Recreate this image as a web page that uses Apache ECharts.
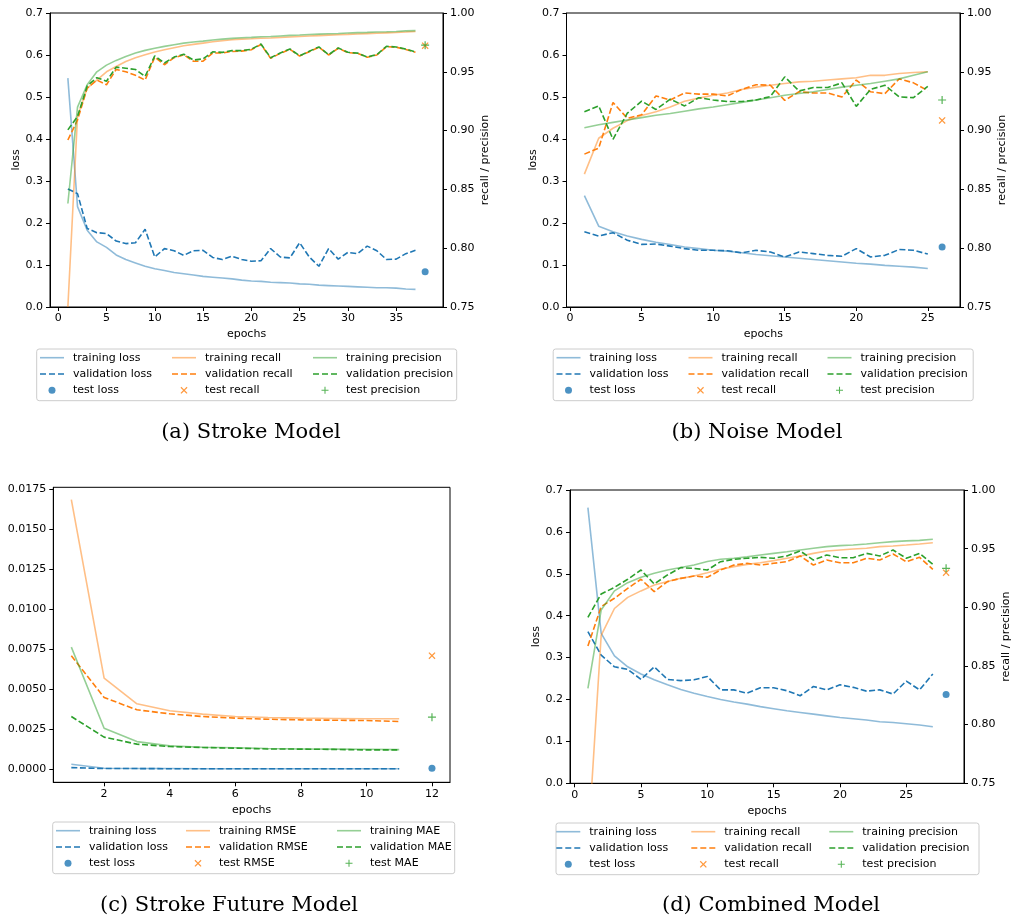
<!DOCTYPE html>
<html>
<head>
<meta charset="utf-8">
<script src="https://cdn.jsdelivr.net/npm/echarts@6/dist/echarts.min.js"></script>
<style>
  html, body { margin: 0; padding: 0; background: #fff; }
  #wrap { position: relative; width: 1012px; height: 923px; }
  .panel { position: absolute; width: 506px; height: 461px; }
</style>
</head>
<body>
<div id="wrap">
  <div id="pa" class="panel" style="left:0;top:0"></div>
  <div id="pb" class="panel" style="left:506px;top:0"></div>
  <div id="pc" class="panel" style="left:0;top:462px"></div>
  <div id="pd" class="panel" style="left:506px;top:462px"></div>
</div>
<script>
// ---------- (a) Stroke Model, 37 epochs ----------
const strokeTrainLoss = [0.545, 0.239, 0.183, 0.155, 0.142, 0.124, 0.113, 0.105, 0.097, 0.091,
  0.087, 0.082, 0.079, 0.076, 0.073, 0.071, 0.069, 0.067, 0.064, 0.062,
  0.061, 0.059, 0.058, 0.057, 0.055, 0.054, 0.052, 0.051, 0.050, 0.049,
  0.048, 0.047, 0.046, 0.046, 0.045, 0.043, 0.042];
const strokeValLoss = [0.281, 0.270, 0.187, 0.177, 0.175, 0.157, 0.151, 0.153, 0.185, 0.119,
  0.139, 0.134, 0.123, 0.134, 0.135, 0.118, 0.113, 0.121, 0.113, 0.109,
  0.110, 0.139, 0.119, 0.117, 0.153, 0.119, 0.097, 0.139, 0.114, 0.130,
  0.127, 0.145, 0.134, 0.113, 0.114, 0.127, 0.135];
const strokeTrainRecall = [0.750, 0.912, 0.936, 0.943, 0.950, 0.9545, 0.9588, 0.962, 0.9645, 0.9668,
  0.9688, 0.9705, 0.9722, 0.9733, 0.9744, 0.9755, 0.9764, 0.9772, 0.9778, 0.9781,
  0.9785, 0.9788, 0.9792, 0.9796, 0.9800, 0.9804, 0.9808, 0.9812, 0.9815, 0.9818,
  0.9822, 0.9825, 0.9828, 0.9831, 0.9834, 0.9838, 0.9843];
const strokeTrainPrecision = [0.838, 0.920, 0.939, 0.950, 0.9557, 0.9597, 0.9631, 0.966, 0.9682, 0.970,
  0.9716, 0.973, 0.9744, 0.9753, 0.9761, 0.977, 0.9778, 0.9784, 0.979, 0.9793,
  0.9798, 0.980, 0.9805, 0.981, 0.9813, 0.9817, 0.982, 0.9823, 0.9826, 0.983,
  0.9833, 0.9835, 0.9838, 0.984, 0.9843, 0.9848, 0.985];
const strokeValRecall = [0.892, 0.909, 0.936, 0.943, 0.939, 0.952, 0.950, 0.947, 0.943, 0.9625,
  0.956, 0.962, 0.9645, 0.959, 0.959, 0.966, 0.966, 0.9673, 0.9676, 0.9688,
  0.9732, 0.9615, 0.9657, 0.9691, 0.9634, 0.9671, 0.9709, 0.9643, 0.970, 0.9663,
  0.9657, 0.9623, 0.9643, 0.9714, 0.9709, 0.969, 0.9666];
const strokeValPrecision = [0.9006, 0.912, 0.938, 0.945, 0.942, 0.954, 0.953, 0.952, 0.946, 0.9636,
  0.9575, 0.9625, 0.965, 0.960, 0.961, 0.967, 0.9665, 0.968, 0.968, 0.9692,
  0.9736, 0.962, 0.966, 0.9694, 0.9636, 0.9674, 0.9712, 0.9645, 0.9703, 0.9666,
  0.9659, 0.9626, 0.9646, 0.9717, 0.9711, 0.9693, 0.9668];
const strokeTest = { epoch: 38, loss: 0.084, recall: 0.9722, precision: 0.9726 };

// ---------- (b) Noise Model, 25 epochs ----------
const noiseTrainLoss = [0.265, 0.1925, 0.179, 0.169, 0.161, 0.154, 0.149, 0.143, 0.139, 0.135,
  0.133, 0.129, 0.125, 0.122, 0.119, 0.116, 0.113, 0.110, 0.107, 0.104,
  0.102, 0.099, 0.097, 0.095, 0.0915];
const noiseValLoss = [0.179, 0.169, 0.177, 0.159, 0.149, 0.150, 0.145, 0.139, 0.135, 0.135,
  0.134, 0.129, 0.135, 0.131, 0.119, 0.131, 0.127, 0.123, 0.121, 0.139,
  0.119, 0.123, 0.137, 0.135, 0.126];
const noiseTrainRecall = [0.863, 0.8935, 0.902, 0.9085, 0.9128, 0.916, 0.920, 0.925, 0.9276, 0.930,
  0.932, 0.935, 0.937, 0.9386, 0.940, 0.9414, 0.942, 0.943, 0.944, 0.945,
  0.947, 0.947, 0.9486, 0.9494, 0.950];
const noiseTrainPrecision = [0.9025, 0.905, 0.907, 0.909, 0.911, 0.913, 0.9145, 0.9165, 0.9185, 0.920,
  0.922, 0.924, 0.926, 0.928, 0.930, 0.9315, 0.933, 0.935, 0.937, 0.9385,
  0.940, 0.942, 0.944, 0.947, 0.950];
const noiseValRecall = [0.880, 0.885, 0.9239, 0.9105, 0.9134, 0.9295, 0.926, 0.932, 0.931, 0.931,
  0.9295, 0.935, 0.939, 0.9386, 0.9257, 0.933, 0.932, 0.932, 0.9286, 0.943,
  0.933, 0.9314, 0.944, 0.9406, 0.934];
const noiseValPrecision = [0.916, 0.921, 0.8926, 0.9148, 0.925, 0.918, 0.9267, 0.921, 0.928, 0.926,
  0.9247, 0.9247, 0.926, 0.929, 0.9457, 0.9337, 0.9366, 0.9366, 0.9406, 0.9206,
  0.935, 0.9386, 0.9286, 0.928, 0.9377];
const noiseTest = { epoch: 26, loss: 0.143, recall: 0.9086, precision: 0.926 };

// ---------- (c) Stroke Future Model, 11 epochs ----------
const futureTrainLoss = [0.00029, 0.00004, 0.00002, 0.00002, 0.00001, 0.00001, 0.00001, 0.00001, 0.00001, 0.00001, 0.00001];
const futureValLoss = [0.00008, 0.00002, 0.00002, 0.00001, 0.00001, 0.00001, 0.00001, 0.00001, 0.00001, 0.00001, 0.00001];
const futureTrainRMSE = [0.01687, 0.00569, 0.00408, 0.00364, 0.00343, 0.00328, 0.00322, 0.00318, 0.00316, 0.00314, 0.00314];
const futureValRMSE = [0.00709, 0.00447, 0.00370, 0.00345, 0.00328, 0.00318, 0.00311, 0.00307, 0.00305, 0.00303, 0.00297];
const futureTrainMAE = [0.00763, 0.00255, 0.00171, 0.00144, 0.00136, 0.00132, 0.00128, 0.00125, 0.00124, 0.00123, 0.00121];
const futureValMAE = [0.00328, 0.00199, 0.00155, 0.00140, 0.00134, 0.00130, 0.00125, 0.00124, 0.00122, 0.00119, 0.00119];
const futureTest = { epoch: 12, loss: 0.00004, rmse: 0.00709, mae: 0.00324 };

// ---------- (d) Combined Model, 27 epochs ----------
const combTrainLoss = [0.658, 0.358, 0.304, 0.278, 0.261, 0.247, 0.235, 0.224, 0.215, 0.207,
  0.200, 0.194, 0.189, 0.183, 0.178, 0.173, 0.169, 0.165, 0.161, 0.157,
  0.154, 0.151, 0.147, 0.145, 0.142, 0.139, 0.135];
const combValLoss = [0.362, 0.306, 0.278, 0.272, 0.248, 0.278, 0.248, 0.245, 0.247, 0.255,
  0.223, 0.223, 0.215, 0.228, 0.228, 0.221, 0.209, 0.231, 0.223, 0.235,
  0.229, 0.220, 0.223, 0.213, 0.244, 0.223, 0.261];
const combTrainRecall = [0.696, 0.876, 0.899, 0.9085, 0.914, 0.919, 0.922, 0.9247, 0.9267, 0.9295,
  0.9324, 0.9347, 0.9366, 0.938, 0.9398, 0.9418, 0.9438, 0.946, 0.948, 0.9489,
  0.9497, 0.9503, 0.9517, 0.9523, 0.9531, 0.954, 0.9551];
const combTrainPrecision = [0.831, 0.8977, 0.914, 0.921, 0.9256, 0.929, 0.9318, 0.934, 0.936, 0.939,
  0.941, 0.9418, 0.943, 0.9446, 0.946, 0.9474, 0.9489, 0.9503, 0.9517, 0.9526,
  0.9531, 0.954, 0.9551, 0.956, 0.9566, 0.9571, 0.958];
const combValRecall = [0.867, 0.9006, 0.9077, 0.9162, 0.9239, 0.9134, 0.9219, 0.9247, 0.9267, 0.9256,
  0.9318, 0.936, 0.9375, 0.936, 0.9375, 0.9389, 0.9438, 0.936, 0.9403, 0.938,
  0.938, 0.9418, 0.9403, 0.9455, 0.9389, 0.9426, 0.9324];
const combValPrecision = [0.8915, 0.9114, 0.917, 0.9239, 0.9318, 0.9199, 0.9276, 0.9338, 0.9332, 0.9318,
  0.9389, 0.9409, 0.9418, 0.9426, 0.9418, 0.9438, 0.948, 0.9403, 0.9446, 0.9423,
  0.9423, 0.946, 0.9438, 0.9489, 0.9418, 0.946, 0.9366];
const combTest = { epoch: 28, loss: 0.212, recall: 0.9295, precision: 0.9332 };

// ---------- tick labels ----------
const ticksStrokeX = [0, 5, 10, 15, 20, 25, 30, 35];
const ticksNoiseX = [0, 5, 10, 15, 20, 25];
const ticksFutureX = [2, 4, 6, 8, 10, 12];
const ticksCombX = [0, 5, 10, 15, 20, 25];
const ticksFutureY = [0, 0.0025, 0.005, 0.0075, 0.01, 0.0125, 0.015, 0.0175];

// ---------- styling ----------
const FONT = "'DejaVu Sans', sans-serif";
const C0 = '#1f77b4', C1 = '#ff7f0e', C2 = '#2ca02c';
const C0a = 'rgba(31,119,180,0.5)', C1a = 'rgba(255,127,14,0.5)', C2a = 'rgba(44,160,44,0.5)';
const DASH = [6, 2.6];
const ICON_SOLID = 'path://M0,0H24V1.6H0Z';
const ICON_DASH = 'path://M0,0H6V1.6H0Z M9,0H15V1.6H9Z M18,0H24V1.6H18Z';
const SYM_X = 'path://M1,0L4,3L7,0L8,1L5,4L8,7L7,8L4,5L1,8L0,7L3,4L0,1Z';
const SYM_PLUS = 'path://M3.4,0H4.6V3.4H8V4.6H4.6V8H3.4V4.6H0V3.4H3.4Z';
const MARKERS = {
  dot: { symbol: 'circle', size: 7 },
  x: { symbol: SYM_X, size: 7 },
  plus: { symbol: SYM_PLUS, size: 8 }
};
const ICON_OF = { solid: ICON_SOLID, dash: ICON_DASH, dot: 'circle', x: SYM_X, plus: SYM_PLUS };

function lineSeries(name, values, color, dashed, axis) {
  return {
    type: 'line', name: name, yAxisIndex: axis,
    data: values.map((v, i) => [i + 1, v]),
    symbol: 'none', showSymbol: false, clip: true, silent: true, animation: false,
    lineStyle: { color: color, width: 1.6, type: dashed ? DASH : 'solid' },
    itemStyle: { color: color },
    emphasis: { disabled: true }
  };
}
function testSeries(name, x, y, kind, color, axis) {
  return {
    type: 'scatter', name: name, yAxisIndex: axis,
    data: [[x, y]], symbol: MARKERS[kind].symbol, symbolSize: MARKERS[kind].size,
    itemStyle: { color: color }, silent: true, animation: false, clip: false,
    emphasis: { disabled: true }
  };
}

const axisText = { color: '#000', fontFamily: FONT, fontSize: 11 };
function xAxisCfg(min, max, ticks) {
  return {
    type: 'value', min: min, max: max,
    name: 'epochs', nameLocation: 'middle', nameGap: 22, nameMoveOverlap: false,
    nameTextStyle: axisText,
    axisLine: { show: true, onZero: false, lineStyle: { color: '#000', width: 1 } },
    axisTick: { show: true, length: 4, inside: false, customValues: ticks, lineStyle: { color: '#000', width: 1 } },
    axisLabel: Object.assign({ customValues: ticks, margin: 6, formatter: v => String(v) }, axisText),
    splitLine: { show: false }
  };
}
function yAxisCfg(opt) {
  const cfg = {
    type: 'value', min: opt.min, max: opt.max, position: opt.position,
    axisLine: { show: true, onZero: false, lineStyle: { color: '#000', width: 1 } },
    axisTick: { show: true, length: 4, inside: false, lineStyle: { color: '#000', width: 1 } },
    axisLabel: Object.assign({ margin: 7, formatter: v => v.toFixed(opt.digits) }, axisText),
    splitLine: { show: false }
  };
  if (opt.interval) cfg.interval = opt.interval;
  if (opt.ticks) { cfg.axisTick.customValues = opt.ticks; cfg.axisLabel.customValues = opt.ticks; }
  if (opt.name) {
    cfg.name = opt.name; cfg.nameLocation = 'middle'; cfg.nameGap = opt.nameGap;
    cfg.nameRotate = 90; cfg.nameTextStyle = axisText; cfg.nameMoveOverlap = false;
  }
  return cfg;
}

function buildPanel(id, p) {
  const chart = echarts.init(document.getElementById(id), null, { renderer: 'canvas' });
  // legend: three columns of three entries, inside a rounded frame
  const legends = p.legendCols.map((col, k) => ({
    orient: 'vertical', left: p.legendX[k], top: p.legendTop, padding: 0,
    itemWidth: 24, itemHeight: 7, itemGap: 3.3, selectedMode: false,
    itemStyle: { borderWidth: 0 },
    textStyle: { color: '#000', fontFamily: FONT, fontSize: 11, lineHeight: 13, padding: [0, 0, 0, 4] },
    data: col.map(e => ({ name: e.name, icon: ICON_OF[e.icon] }))
  }));
  chart.setOption({
    backgroundColor: '#fff',
    animation: false,
    textStyle: { fontFamily: FONT },
    grid: Object.assign({ show: true, borderColor: '#000', borderWidth: 1, backgroundColor: 'transparent',
      containLabel: false, outerBoundsMode: 'none' }, p.grid),
    xAxis: xAxisCfg(p.xMin, p.xMax, p.xTicks),
    yAxis: p.yAxes.map(yAxisCfg),
    legend: legends,
    series: p.series,
    graphic: [
      { type: 'rect', z: 0, shape: { x: p.box.x, y: p.box.y, width: p.box.w, height: p.box.h, r: 2.5 },
        style: { fill: 'rgba(255,255,255,0.8)', stroke: '#cccccc', lineWidth: 1 } },
      { type: 'text', x: p.caption.x, y: p.caption.y,
        style: { text: p.caption.text, font: '21px "DejaVu Serif", serif', fill: '#000',
          textAlign: 'center', textVerticalAlign: 'middle', align: 'center', verticalAlign: 'middle' } }
    ]
  });
}

function metricColumns(second, third) {
  return [
    [{ name: 'training loss', icon: 'solid' }, { name: 'validation loss', icon: 'dash' }, { name: 'test loss', icon: 'dot' }],
    [{ name: 'training ' + second, icon: 'solid' }, { name: 'validation ' + second, icon: 'dash' }, { name: 'test ' + second, icon: 'x' }],
    [{ name: 'training ' + third, icon: 'solid' }, { name: 'validation ' + third, icon: 'dash' }, { name: 'test ' + third, icon: 'plus' }]
  ];
}

function twinSeries(tl, vl, tr, vr, tp, vp, test) {
  return [
    lineSeries('training loss', tl, C0a, false, 0),
    lineSeries('validation loss', vl, C0, true, 0),
    testSeries('test loss', test.epoch, test.loss, 'dot', C0, 0),
    lineSeries('training recall', tr, C1a, false, 1),
    lineSeries('validation recall', vr, C1, true, 1),
    testSeries('test recall', test.epoch, test.recall, 'x', C1, 1),
    lineSeries('training precision', tp, C2a, false, 1),
    lineSeries('validation precision', vp, C2, true, 1),
    testSeries('test precision', test.epoch, test.precision, 'plus', C2, 1)
  ];
}

const lossAxis = () => ({ min: 0, max: 0.7, interval: 0.1, digits: 1, position: 'left', name: 'loss', nameGap: 28 });
const rpAxis = () => ({ min: 0.75, max: 1.0, interval: 0.05, digits: 2, position: 'right', name: 'recall / precision', nameGap: 37 });

buildPanel('pa', {
  grid: { left: 50, top: 13, width: 393, height: 294 },
  xMin: -0.85, xMax: 39.85, xTicks: ticksStrokeX,
  yAxes: [lossAxis(), rpAxis()],
  series: twinSeries(strokeTrainLoss, strokeValLoss, strokeTrainRecall, strokeValRecall,
    strokeTrainPrecision, strokeValPrecision, strokeTest),
  legendCols: metricColumns('recall', 'precision'),
  legendX: [40, 172, 313], legendTop: 351.2,
  box: { x: 36.7, y: 349, w: 420, h: 51.7 },
  caption: { text: '(a) Stroke Model', x: 251, y: 433 }
});

buildPanel('pb', {
  grid: { left: 60.5, top: 13, width: 393.5, height: 294 },
  xMin: -0.25, xMax: 27.25, xTicks: ticksNoiseX,
  yAxes: [lossAxis(), rpAxis()],
  series: twinSeries(noiseTrainLoss, noiseValLoss, noiseTrainRecall, noiseValRecall,
    noiseTrainPrecision, noiseValPrecision, noiseTest),
  legendCols: metricColumns('recall', 'precision'),
  legendX: [50.5, 182.5, 321.5], legendTop: 351.2,
  box: { x: 47.2, y: 349, w: 420, h: 51.7 },
  caption: { text: '(b) Noise Model', x: 251, y: 433 }
});

buildPanel('pc', {
  grid: { left: 53.3, top: 25.3, width: 396.7, height: 295 },
  xMin: 0.45, xMax: 12.55, xTicks: ticksFutureX,
  yAxes: [{ min: -0.00084, max: 0.01764, ticks: ticksFutureY, digits: 4, position: 'left' }],
  series: [
    lineSeries('training loss', futureTrainLoss, C0a, false, 0),
    lineSeries('validation loss', futureValLoss, C0, true, 0),
    testSeries('test loss', futureTest.epoch, futureTest.loss, 'dot', C0, 0),
    lineSeries('training RMSE', futureTrainRMSE, C1a, false, 0),
    lineSeries('validation RMSE', futureValRMSE, C1, true, 0),
    testSeries('test RMSE', futureTest.epoch, futureTest.rmse, 'x', C1, 0),
    lineSeries('training MAE', futureTrainMAE, C2a, false, 0),
    lineSeries('validation MAE', futureValMAE, C2, true, 0),
    testSeries('test MAE', futureTest.epoch, futureTest.mae, 'plus', C2, 0)
  ],
  legendCols: metricColumns('RMSE', 'MAE'),
  legendX: [56, 186, 337], legendTop: 362.2,
  box: { x: 52.7, y: 360, w: 402, h: 51.7 },
  caption: { text: '(c) Stroke Future Model', x: 229, y: 444 }
});

buildPanel('pd', {
  grid: { left: 64, top: 28, width: 394, height: 293.3 },
  xMin: -0.35, xMax: 29.35, xTicks: ticksCombX,
  yAxes: [lossAxis(), rpAxis()],
  series: twinSeries(combTrainLoss, combValLoss, combTrainRecall, combValRecall,
    combTrainPrecision, combValPrecision, combTest),
  legendCols: metricColumns('recall', 'precision'),
  legendX: [50.3, 185.3, 323.3], legendTop: 363.2,
  box: { x: 50, y: 361, w: 423, h: 51.7 },
  caption: { text: '(d) Combined Model', x: 265, y: 444 }
});
</script>
</body>
</html>
